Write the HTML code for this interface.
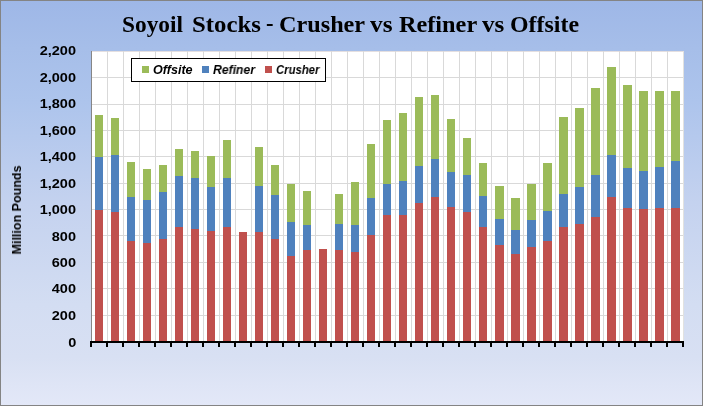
<!DOCTYPE html>
<html><head><meta charset="utf-8"><style>
*{margin:0;padding:0;box-sizing:border-box}
html,body{width:703px;height:406px;overflow:hidden;background:#fff}
#c{position:absolute;left:0;top:0;width:703px;height:406px;
background:linear-gradient(to bottom,#9eb7e7 0%,#a6bee9 12%,#adc4ec 25%,#c4d2ef 50%,#d3ddf2 75%,#d8e0f3 88%,#dfe5f6 95%,#e3e8f8 100%);
font-family:"Liberation Sans",sans-serif;overflow:hidden}
.yl,.tw,#ytitle,.lt{will-change:transform}
#frame{position:absolute;left:0;top:0;width:703px;height:406px;border:1px solid #848484}
#plot{position:absolute;left:91px;top:51px;width:592px;height:291px;background:#fff}
.hg{position:absolute;left:91px;width:593px;height:1px;background:#d9d9d9}
.vg{position:absolute;top:51px;height:290px;width:1px;background:#d9d9d9}
.bar{position:absolute;width:8px}
.g{background:#9bbb59}.b{background:#4f81bd}.r{background:#c0504d}
#yaxis{position:absolute;left:91px;top:51px;width:1px;height:290px;background:#868686}
#xaxis{position:absolute;left:90px;top:341px;width:593px;height:2px;background:#000}
.tk{position:absolute;top:341px;width:2px;height:6px;background:#000}
.yl{position:absolute;right:626.6px;font-weight:bold;font-size:13.2px;line-height:14px;color:#000;white-space:nowrap;transform:scaleX(1.1);transform-origin:right center}
.tw{position:absolute;top:11px;font-family:"Liberation Serif",serif;font-weight:bold;font-size:22.6px;line-height:28px;color:#000;white-space:nowrap;transform-origin:left center}
#ytitle{position:absolute;left:17px;top:210px;font-weight:bold;font-size:12.5px;line-height:14px;white-space:nowrap;transform:translate(-50%,-50%) rotate(-90deg) scaleX(1.0)}
#legend{position:absolute;left:131px;top:58px;width:195px;height:24px;border:1px solid #000;background:#fff}
.lsq{position:absolute;top:7px;width:7px;height:7px}
.lt{position:absolute;top:4px;font-weight:bold;font-style:italic;font-size:12.5px;line-height:15px;white-space:nowrap;transform-origin:left center}
</style></head><body>
<div id="c">
<div id="plot"></div>
<div class="hg" style="top:315px"></div><div class="hg" style="top:288px"></div><div class="hg" style="top:262px"></div><div class="hg" style="top:235px"></div><div class="hg" style="top:209px"></div><div class="hg" style="top:183px"></div><div class="hg" style="top:156px"></div><div class="hg" style="top:130px"></div><div class="hg" style="top:104px"></div><div class="hg" style="top:77px"></div><div class="hg" style="top:51px;background:#e4dfe0"></div><div class="vg" style="left:107px"></div><div class="vg" style="left:123px"></div><div class="vg" style="left:139px"></div><div class="vg" style="left:155px"></div><div class="vg" style="left:171px"></div><div class="vg" style="left:187px"></div><div class="vg" style="left:203px"></div><div class="vg" style="left:219px"></div><div class="vg" style="left:235px"></div><div class="vg" style="left:251px"></div><div class="vg" style="left:267px"></div><div class="vg" style="left:283px"></div><div class="vg" style="left:299px"></div><div class="vg" style="left:315px"></div><div class="vg" style="left:331px"></div><div class="vg" style="left:347px"></div><div class="vg" style="left:363px"></div><div class="vg" style="left:379px"></div><div class="vg" style="left:395px"></div><div class="vg" style="left:411px"></div><div class="vg" style="left:427px"></div><div class="vg" style="left:443px"></div><div class="vg" style="left:459px"></div><div class="vg" style="left:475px"></div><div class="vg" style="left:491px"></div><div class="vg" style="left:507px"></div><div class="vg" style="left:523px"></div><div class="vg" style="left:539px"></div><div class="vg" style="left:555px"></div><div class="vg" style="left:571px"></div><div class="vg" style="left:587px"></div><div class="vg" style="left:603px"></div><div class="vg" style="left:619px"></div><div class="vg" style="left:635px"></div><div class="vg" style="left:651px"></div><div class="vg" style="left:667px"></div><div class="vg" style="left:683px;background:#e2e2e0"></div>
<div id="yaxis"></div>
<div class="bar g" style="left:95px;width:8px;top:115px;height:42px"></div><div class="bar b" style="left:95px;width:8px;top:157px;height:53px"></div><div class="bar r" style="left:95px;width:8px;top:210px;height:131px"></div><div class="bar g" style="left:111px;width:8px;top:118px;height:37px"></div><div class="bar b" style="left:111px;width:8px;top:155px;height:57px"></div><div class="bar r" style="left:111px;width:8px;top:212px;height:129px"></div><div class="bar g" style="left:127px;width:8px;top:162px;height:35px"></div><div class="bar b" style="left:127px;width:8px;top:197px;height:44px"></div><div class="bar r" style="left:127px;width:8px;top:241px;height:100px"></div><div class="bar g" style="left:143px;width:8px;top:169px;height:31px"></div><div class="bar b" style="left:143px;width:8px;top:200px;height:43px"></div><div class="bar r" style="left:143px;width:8px;top:243px;height:98px"></div><div class="bar g" style="left:159px;width:8px;top:165px;height:27px"></div><div class="bar b" style="left:159px;width:8px;top:192px;height:47px"></div><div class="bar r" style="left:159px;width:8px;top:239px;height:102px"></div><div class="bar g" style="left:175px;width:8px;top:149px;height:27px"></div><div class="bar b" style="left:175px;width:8px;top:176px;height:51px"></div><div class="bar r" style="left:175px;width:8px;top:227px;height:114px"></div><div class="bar g" style="left:191px;width:8px;top:151px;height:27px"></div><div class="bar b" style="left:191px;width:8px;top:178px;height:51px"></div><div class="bar r" style="left:191px;width:8px;top:229px;height:112px"></div><div class="bar g" style="left:207px;width:8px;top:156px;height:31px"></div><div class="bar b" style="left:207px;width:8px;top:187px;height:44px"></div><div class="bar r" style="left:207px;width:8px;top:231px;height:110px"></div><div class="bar g" style="left:223px;width:8px;top:140px;height:38px"></div><div class="bar b" style="left:223px;width:8px;top:178px;height:49px"></div><div class="bar r" style="left:223px;width:8px;top:227px;height:114px"></div><div class="bar r" style="left:239px;width:8px;top:232px;height:109px"></div><div class="bar g" style="left:255px;width:8px;top:147px;height:39px"></div><div class="bar b" style="left:255px;width:8px;top:186px;height:46px"></div><div class="bar r" style="left:255px;width:8px;top:232px;height:109px"></div><div class="bar g" style="left:271px;width:8px;top:165px;height:30px"></div><div class="bar b" style="left:271px;width:8px;top:195px;height:44px"></div><div class="bar r" style="left:271px;width:8px;top:239px;height:102px"></div><div class="bar g" style="left:287px;width:8px;top:184px;height:38px"></div><div class="bar b" style="left:287px;width:8px;top:222px;height:34px"></div><div class="bar r" style="left:287px;width:8px;top:256px;height:85px"></div><div class="bar g" style="left:303px;width:8px;top:191px;height:34px"></div><div class="bar b" style="left:303px;width:8px;top:225px;height:25px"></div><div class="bar r" style="left:303px;width:8px;top:250px;height:91px"></div><div class="bar r" style="left:319px;width:8px;top:249px;height:92px"></div><div class="bar g" style="left:335px;width:8px;top:194px;height:30px"></div><div class="bar b" style="left:335px;width:8px;top:224px;height:26px"></div><div class="bar r" style="left:335px;width:8px;top:250px;height:91px"></div><div class="bar g" style="left:351px;width:8px;top:182px;height:43px"></div><div class="bar b" style="left:351px;width:8px;top:225px;height:27px"></div><div class="bar r" style="left:351px;width:8px;top:252px;height:89px"></div><div class="bar g" style="left:367px;width:8px;top:144px;height:54px"></div><div class="bar b" style="left:367px;width:8px;top:198px;height:37px"></div><div class="bar r" style="left:367px;width:8px;top:235px;height:106px"></div><div class="bar g" style="left:383px;width:8px;top:120px;height:64px"></div><div class="bar b" style="left:383px;width:8px;top:184px;height:31px"></div><div class="bar r" style="left:383px;width:8px;top:215px;height:126px"></div><div class="bar g" style="left:399px;width:8px;top:113px;height:68px"></div><div class="bar b" style="left:399px;width:8px;top:181px;height:34px"></div><div class="bar r" style="left:399px;width:8px;top:215px;height:126px"></div><div class="bar g" style="left:415px;width:8px;top:97px;height:69px"></div><div class="bar b" style="left:415px;width:8px;top:166px;height:37px"></div><div class="bar r" style="left:415px;width:8px;top:203px;height:138px"></div><div class="bar g" style="left:431px;width:8px;top:95px;height:64px"></div><div class="bar b" style="left:431px;width:8px;top:159px;height:38px"></div><div class="bar r" style="left:431px;width:8px;top:197px;height:144px"></div><div class="bar g" style="left:447px;width:8px;top:119px;height:53px"></div><div class="bar b" style="left:447px;width:8px;top:172px;height:35px"></div><div class="bar r" style="left:447px;width:8px;top:207px;height:134px"></div><div class="bar g" style="left:463px;width:8px;top:138px;height:37px"></div><div class="bar b" style="left:463px;width:8px;top:175px;height:37px"></div><div class="bar r" style="left:463px;width:8px;top:212px;height:129px"></div><div class="bar g" style="left:479px;width:8px;top:163px;height:33px"></div><div class="bar b" style="left:479px;width:8px;top:196px;height:31px"></div><div class="bar r" style="left:479px;width:8px;top:227px;height:114px"></div><div class="bar g" style="left:495px;width:9px;top:186px;height:33px"></div><div class="bar b" style="left:495px;width:9px;top:219px;height:26px"></div><div class="bar r" style="left:495px;width:9px;top:245px;height:96px"></div><div class="bar g" style="left:511px;width:9px;top:198px;height:32px"></div><div class="bar b" style="left:511px;width:9px;top:230px;height:24px"></div><div class="bar r" style="left:511px;width:9px;top:254px;height:87px"></div><div class="bar g" style="left:527px;width:9px;top:184px;height:36px"></div><div class="bar b" style="left:527px;width:9px;top:220px;height:27px"></div><div class="bar r" style="left:527px;width:9px;top:247px;height:94px"></div><div class="bar g" style="left:543px;width:9px;top:163px;height:48px"></div><div class="bar b" style="left:543px;width:9px;top:211px;height:30px"></div><div class="bar r" style="left:543px;width:9px;top:241px;height:100px"></div><div class="bar g" style="left:559px;width:9px;top:117px;height:77px"></div><div class="bar b" style="left:559px;width:9px;top:194px;height:33px"></div><div class="bar r" style="left:559px;width:9px;top:227px;height:114px"></div><div class="bar g" style="left:575px;width:9px;top:108px;height:79px"></div><div class="bar b" style="left:575px;width:9px;top:187px;height:37px"></div><div class="bar r" style="left:575px;width:9px;top:224px;height:117px"></div><div class="bar g" style="left:591px;width:9px;top:88px;height:87px"></div><div class="bar b" style="left:591px;width:9px;top:175px;height:42px"></div><div class="bar r" style="left:591px;width:9px;top:217px;height:124px"></div><div class="bar g" style="left:607px;width:9px;top:67px;height:88px"></div><div class="bar b" style="left:607px;width:9px;top:155px;height:42px"></div><div class="bar r" style="left:607px;width:9px;top:197px;height:144px"></div><div class="bar g" style="left:623px;width:9px;top:85px;height:83px"></div><div class="bar b" style="left:623px;width:9px;top:168px;height:40px"></div><div class="bar r" style="left:623px;width:9px;top:208px;height:133px"></div><div class="bar g" style="left:639px;width:9px;top:91px;height:80px"></div><div class="bar b" style="left:639px;width:9px;top:171px;height:38px"></div><div class="bar r" style="left:639px;width:9px;top:209px;height:132px"></div><div class="bar g" style="left:655px;width:9px;top:91px;height:76px"></div><div class="bar b" style="left:655px;width:9px;top:167px;height:41px"></div><div class="bar r" style="left:655px;width:9px;top:208px;height:133px"></div><div class="bar g" style="left:671px;width:9px;top:91px;height:70px"></div><div class="bar b" style="left:671px;width:9px;top:161px;height:47px"></div><div class="bar r" style="left:671px;width:9px;top:208px;height:133px"></div>
<div id="xaxis"></div>
<div class="tk" style="left:90px"></div><div class="tk" style="left:106px"></div><div class="tk" style="left:122px"></div><div class="tk" style="left:138px"></div><div class="tk" style="left:154px"></div><div class="tk" style="left:170px"></div><div class="tk" style="left:186px"></div><div class="tk" style="left:202px"></div><div class="tk" style="left:218px"></div><div class="tk" style="left:234px"></div><div class="tk" style="left:250px"></div><div class="tk" style="left:266px"></div><div class="tk" style="left:282px"></div><div class="tk" style="left:298px"></div><div class="tk" style="left:314px"></div><div class="tk" style="left:330px"></div><div class="tk" style="left:346px"></div><div class="tk" style="left:362px"></div><div class="tk" style="left:378px"></div><div class="tk" style="left:394px"></div><div class="tk" style="left:410px"></div><div class="tk" style="left:426px"></div><div class="tk" style="left:442px"></div><div class="tk" style="left:458px"></div><div class="tk" style="left:474px"></div><div class="tk" style="left:490px"></div><div class="tk" style="left:506px"></div><div class="tk" style="left:522px"></div><div class="tk" style="left:538px"></div><div class="tk" style="left:554px"></div><div class="tk" style="left:570px"></div><div class="tk" style="left:586px"></div><div class="tk" style="left:602px"></div><div class="tk" style="left:618px"></div><div class="tk" style="left:634px"></div><div class="tk" style="left:650px"></div><div class="tk" style="left:666px"></div><div class="tk" style="left:682px"></div>
<div class="yl" style="top:335.90px">0</div><div class="yl" style="top:308.85px">200</div><div class="yl" style="top:282.40px">400</div><div class="yl" style="top:255.95px">600</div><div class="yl" style="top:229.50px">800</div><div class="yl" style="top:203.05px">1,000</div><div class="yl" style="top:176.60px">1,200</div><div class="yl" style="top:150.15px">1,400</div><div class="yl" style="top:123.70px">1,600</div><div class="yl" style="top:97.25px">1,800</div><div class="yl" style="top:70.80px">2,000</div><div class="yl" style="top:44.35px">2,200</div>
<div id="title"><span class="tw" style="left:121.87px;transform:scaleX(1.033)">Soyoil</span><span class="tw" style="left:191.8px;transform:scaleX(1.097)">Stocks</span><span class="tw" style="left:266.0px;transform:scaleX(1.0);margin-top:-1px">-</span><span class="tw" style="left:279.23px;transform:scaleX(1.072)">Crusher</span><span class="tw" style="left:370.0px;transform:scaleX(1.12)">vs</span><span class="tw" style="left:398.6px;transform:scaleX(1.074)">Refiner</span><span class="tw" style="left:482.1px;transform:scaleX(1.11)">vs</span><span class="tw" style="left:510.3px;transform:scaleX(1.058)">Offsite</span></div>
<div id="ytitle">Million Pounds</div>
<div id="legend">
<div class="lsq" style="left:10px;background:#9bbb59"></div><div class="lt" style="left:20.6px;transform:scaleX(1.0065)">Offsite</div>
<div class="lsq" style="left:70px;background:#4f81bd"></div><div class="lt" style="left:80.9px;transform:scaleX(0.975)">Refiner</div>
<div class="lsq" style="left:133px;background:#c0504d"></div><div class="lt" style="left:143.9px;transform:scaleX(0.906)">Crusher</div>
</div>
<div id="frame"></div>
</div>
</body></html>
